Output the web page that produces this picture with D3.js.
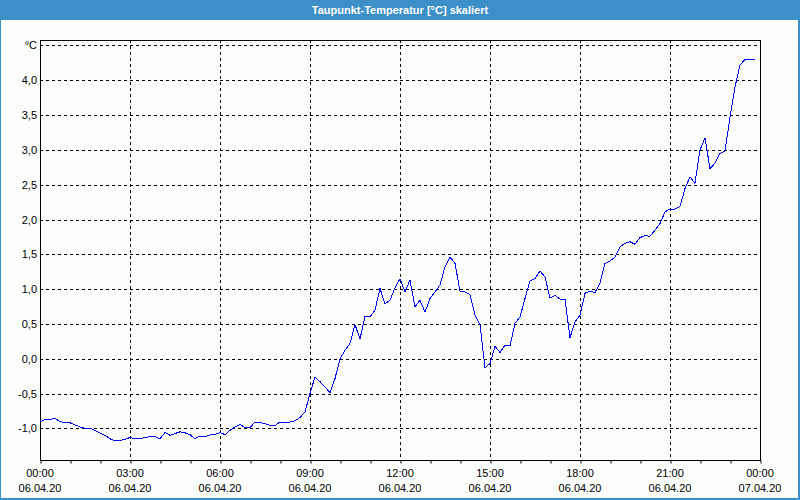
<!DOCTYPE html>
<html>
<head>
<meta charset="utf-8">
<script src="https://cdn.jsdelivr.net/npm/d3@7"></script>
<style>
  body { margin: 0; background: #fff; }
  svg text { font-family: "Liberation Sans Narrow", "Liberation Sans", Arial, sans-serif; }
</style>
</head>
<body>
<svg id="chart" width="800" height="500"></svg>
<script>
const title = "Taupunkt-Temperatur [°C] skaliert";
const unit = "°C";

// measurements every 10 minutes, starting 06.04.20 00:00
const startTime = new Date(2020, 3, 6, 0, 0);
const stepMinutes = 10;
const dewPoint = [
  -0.91, -0.87, -0.87, -0.86, -0.90, -0.92, -0.92, -0.95, -0.98, -1.00,
  -1.00, -1.03, -1.07, -1.10, -1.15, -1.18, -1.175, -1.16, -1.13, -1.15,
  -1.15, -1.13, -1.12, -1.12, -1.15, -1.06, -1.10, -1.075, -1.05, -1.065,
  -1.09, -1.15, -1.11, -1.12, -1.095, -1.09, -1.06, -1.09, -1.03, -0.98,
  -0.945, -0.99, -0.99, -0.91, -0.92, -0.93, -0.96, -0.96, -0.91, -0.92,
  -0.91, -0.89, -0.845, -0.765, -0.50, -0.26, -0.33, -0.405, -0.49, -0.285,
  0.00, 0.12, 0.22, 0.49, 0.28, 0.61, 0.60, 0.70, 1.01, 0.79,
  0.84, 1.02, 1.15, 0.96, 1.13, 0.745, 0.84, 0.67, 0.865, 0.96,
  1.06, 1.32, 1.46, 1.37, 0.97, 0.96, 0.92, 0.625, 0.49, -0.13,
  -0.07, 0.18, 0.09, 0.195, 0.185, 0.51, 0.60, 0.865, 1.12, 1.15,
  1.26, 1.175, 0.87, 0.91, 0.855, 0.855, 0.30, 0.53, 0.625, 0.94,
  0.975, 0.95, 1.09, 1.37, 1.405, 1.46, 1.61, 1.66, 1.68, 1.645,
  1.74, 1.77, 1.76, 1.845, 1.94, 2.11, 2.15, 2.15, 2.19, 2.445,
  2.61, 2.52, 3.00, 3.17, 2.73, 2.81, 2.95, 2.985, 3.47, 3.905,
  4.22, 4.30, 4.30, 4.30
];
const yTicks = [-1.0, -0.5, 0.0, 0.5, 1.0, 1.5, 2.0, 2.5, 3.0, 3.5, 4.0, 4.5];

const width = 800;
const height = 500;
const frameColor = "#3c8fc7";
const plot = { left: 40, right: 760, top: 40, bottom: 460 };

const svg = d3.select("#chart");

// window frame + title bar
svg.append("rect").attr("width", width).attr("height", height).attr("fill", frameColor);
svg.append("rect")
  .attr("x", 1).attr("y", 20)
  .attr("width", width - 3).attr("height", height - 22)
  .attr("fill", "#fbfdfb");
svg.append("text")
  .attr("x", width / 2).attr("y", 14)
  .attr("text-anchor", "middle")
  .attr("fill", "#fff")
  .attr("font-size", 11)
  .attr("font-weight", "bold")
  .text(title);

const data = dewPoint.map((v, i) => ({
  t: d3.timeMinute.offset(startTime, i * stepMinutes),
  v: v
}));

const x = d3.scaleTime()
  .domain([startTime, d3.timeDay.offset(startTime, 1)])
  .range([plot.left, plot.right]);

const y = d3.scaleLinear()
  .domain([-1.455, 4.579])
  .range([plot.bottom, plot.top]);

const dash = "3,3";

// horizontal grid
svg.append("g")
  .selectAll("line")
  .data(yTicks)
  .join("line")
  .attr("x1", plot.left).attr("x2", plot.right)
  .attr("y1", (d) => Math.round(y(d)) + 0.5)
  .attr("y2", (d) => Math.round(y(d)) + 0.5)
  .attr("stroke", "#000")
  .attr("stroke-dasharray", dash);

// vertical grid every 3 hours
const gridTimes = d3.timeHour.every(3).range(d3.timeHour.offset(startTime, 3), d3.timeDay.offset(startTime, 1));
svg.append("g")
  .selectAll("line")
  .data(gridTimes)
  .join("line")
  .attr("x1", (d) => Math.round(x(d)) + 0.5)
  .attr("x2", (d) => Math.round(x(d)) + 0.5)
  .attr("y1", plot.top).attr("y2", plot.bottom)
  .attr("stroke", "#000")
  .attr("stroke-dasharray", dash);

// y labels
svg.append("g")
  .selectAll("text")
  .data(yTicks)
  .join("text")
  .attr("x", 37)
  .attr("y", (d) => y(d) + 4)
  .attr("text-anchor", "end")
  .attr("font-size", 11)
  .attr("fill", "#000")
  .text((d) => d === 4.5 ? unit : d3.format(".1f")(d).replace(".", ",").replace("−", "-"));

// x axis: hourly ticks, labels every 3 hours
const xAxis = d3.axisBottom(x)
  .ticks(d3.timeHour.every(1))
  .tickSize(3)
  .tickFormat("");
const gx = svg.append("g")
  .attr("transform", `translate(0.5,${plot.bottom + 0.5})`)
  .call(xAxis);
gx.select(".domain").remove();
gx.selectAll(".tick line").attr("stroke", "#000");

const labelTimes = d3.timeHour.every(3).range(startTime, d3.timeHour.offset(d3.timeDay.offset(startTime, 1), 1));
const timeFmt = d3.timeFormat("%H:%M");
const dateFmt = d3.timeFormat("%d.%m.%y");
const labels = svg.append("g")
  .selectAll("g")
  .data(labelTimes)
  .join("g")
  .attr("transform", (d) => `translate(${x(d)},0)`);
labels.append("text")
  .attr("y", 477)
  .attr("text-anchor", "middle")
  .attr("font-size", 11)
  .attr("fill", "#000")
  .text((d) => timeFmt(d));
labels.append("text")
  .attr("y", 492)
  .attr("text-anchor", "middle")
  .attr("font-size", 11)
  .attr("fill", "#000")
  .text((d) => dateFmt(d));

// plot border
svg.append("rect")
  .attr("x", plot.left + 0.5).attr("y", plot.top + 0.5)
  .attr("width", plot.right - plot.left).attr("height", plot.bottom - plot.top)
  .attr("fill", "none")
  .attr("stroke", "#000");

// line
const line = d3.line()
  .x((d) => x(d.t))
  .y((d) => y(d.v));

svg.append("path")
  .datum(data)
  .attr("d", line)
  .attr("fill", "none")
  .attr("stroke", "#0000ff")
  .attr("stroke-width", 1)
  .attr("shape-rendering", "crispEdges");
</script>
</body>
</html>
